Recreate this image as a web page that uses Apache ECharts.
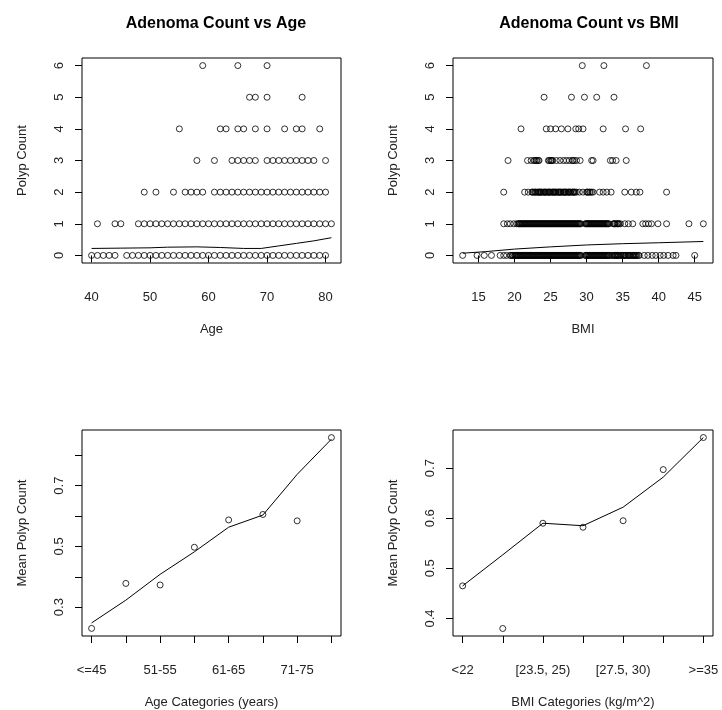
<!DOCTYPE html>
<html>
<head>
<meta charset="utf-8">
<script src="https://cdn.jsdelivr.net/npm/echarts@6/dist/echarts.min.js"></script>
<style>
  html, body { margin: 0; padding: 0; background: #fff; }
  #chart { width: 722px; height: 710px; }
</style>
</head>
<body>
<div id="chart"></div>
<script>
// Adenoma / polyp count panels (2x2, R base-graphics look)

// --- top left: count vs age, one array of ages per count level
const ageRow0 = [40, 41, 42, 43, 44, 46, 47, 48, 49, 50, 51, 52, 53, 54, 55, 56, 57, 58, 59, 60, 61, 62, 63, 64, 65, 66, 67, 68, 69, 70, 71, 72, 73, 74, 75, 76, 77, 78, 79, 80];
const ageRow1 = [41, 44, 45, 48, 49, 50, 51, 52, 53, 54, 55, 56, 57, 58, 59, 60, 61, 62, 63, 64, 65, 66, 67, 68, 69, 70, 71, 72, 73, 74, 75, 76, 77, 78, 79, 80, 81];
const ageRow2 = [49, 51, 54, 56, 57, 58, 59, 61, 62, 63, 64, 65, 66, 67, 68, 69, 70, 71, 72, 73, 74, 75, 76, 77, 78, 79, 80];
const ageRow3 = [58, 61, 64, 65, 66, 67, 68, 70, 71, 72, 73, 74, 75, 76, 77, 78, 80];
const ageRow4 = [55, 62, 63, 65, 66, 68, 70, 73, 75, 76, 79];
const ageRow5 = [67, 68, 70, 76];
const ageRow6 = [59, 65, 70];
const ageSmoothX = [40, 45, 50, 53, 58, 62, 66, 69, 72, 75, 78, 81];
const ageSmoothY = [0.22, 0.23, 0.24, 0.26, 0.27, 0.25, 0.22, 0.22, 0.30, 0.38, 0.46, 0.56];

// --- top right: count vs BMI (the dense bands hold many subjects)
const bmiRow0 = [12.8, 14.8, 15.8, 16.8, 18.0, 18.5, 18.9, 19.4, 19.7, 20.0, 20.3, 20.5, 20.8, 21.0, 21.3, 21.5, 21.8, 22.0, 22.3, 22.5, 22.8, 23.0, 23.3, 23.5, 23.8, 24.0, 24.3, 24.5, 24.8, 25.0, 25.3, 25.5, 25.8, 26.0, 26.3, 26.5, 26.8, 27.0, 27.3, 27.5, 27.8, 28.0, 28.3, 28.5, 28.8, 29.0, 29.2, 29.8, 30.0, 30.3, 30.5, 30.8, 31.0, 31.3, 31.5, 31.8, 32.0, 32.3, 32.5, 32.8, 33.0, 33.5, 33.8, 34.0, 34.3, 34.5, 35.1, 35.4, 35.7, 36.0, 36.3, 36.6, 36.9, 37.3, 38.0, 38.5, 39.1, 39.6, 40.2, 40.7, 41.3, 42.0, 42.4, 45.0,
  19.5, 19.8, 20.1, 20.4, 20.6, 20.9, 21.1, 21.4, 21.6, 21.9, 22.1, 22.4, 22.6, 22.9, 23.1, 23.4, 23.6, 23.9, 24.1, 24.4, 24.6, 24.9, 25.1, 25.4, 25.6, 25.9, 26.1, 26.4, 26.6, 26.9, 27.1, 27.4, 27.6, 27.9, 28.1, 28.4, 28.6, 28.9, 29.1, 29.9, 30.1, 30.4, 30.6, 30.9, 31.1, 31.4, 31.6, 31.9, 32.1, 32.4, 32.6, 32.9, 33.1, 33.6, 33.9, 34.1, 34.4, 34.7, 35.0, 35.2, 35.5, 35.8, 36.1, 36.4, 36.7, 37.0, 37.2,
  20.2, 20.7, 21.2, 21.7, 22.2, 22.7, 23.2, 23.7, 24.2, 24.7, 25.2, 25.7, 26.2, 26.7, 27.2, 27.7, 28.2, 28.7, 30.2, 30.7, 31.2, 31.7, 32.2, 32.7, 33.2, 34.2, 34.8, 35.3, 35.9, 36.5, 36.8];
const bmiRow1 = [18.5, 19.0, 19.4, 19.9, 20.3, 20.5, 20.8, 21.0, 21.3, 21.5, 21.8, 22.0, 22.3, 22.5, 22.8, 23.0, 23.3, 23.5, 23.8, 24.0, 24.3, 24.5, 24.8, 25.0, 25.3, 25.5, 25.8, 26.0, 26.3, 26.5, 26.8, 27.0, 27.3, 27.5, 27.8, 28.0, 28.3, 28.5, 28.8, 29.0, 29.2, 29.8, 30.0, 30.3, 30.5, 30.8, 31.0, 31.3, 31.5, 31.8, 32.0, 32.3, 32.5, 32.8, 33.1, 33.7, 33.9, 34.2, 34.4, 34.7, 35.3, 35.8, 36.4, 37.8, 38.2, 38.6, 39.0, 39.9, 41.1, 44.2, 46.2,
  20.6, 20.9, 21.1, 21.4, 21.6, 21.9, 22.1, 22.4, 22.6, 22.9, 23.1, 23.4, 23.6, 23.9, 24.1, 24.4, 24.6, 24.9, 25.1, 25.4, 25.6, 25.9, 26.1, 26.4, 26.6, 26.9, 27.1, 27.4, 27.6, 27.9, 28.1, 28.4, 28.6, 28.9, 29.1, 29.9, 30.1, 30.4, 30.6, 30.9, 31.1, 31.4, 31.6, 31.9, 32.1, 32.4, 32.6, 32.9, 33.0, 33.8, 34.0, 34.3, 34.5,
  20.7, 21.2, 21.7, 22.2, 22.7, 23.2, 23.7, 24.2, 24.7, 25.2, 25.7, 26.2, 26.7, 27.2, 27.7, 28.2, 28.7, 30.2, 30.7, 31.2, 31.7, 32.2, 32.7];
const bmiRow2 = [18.5, 21.4, 21.9, 22.4, 22.6, 22.9, 23.2, 23.4, 23.7, 24.0, 24.3, 24.6, 24.9, 25.2, 25.4, 25.7, 26.0, 26.3, 26.5, 26.8, 27.1, 27.4, 27.7, 28.0, 28.3, 28.6, 29.0, 29.5, 30.0, 30.2, 30.5, 30.9, 31.8, 32.3, 32.8, 33.4, 35.3, 36.2, 36.9, 37.4, 41.1,
  22.5, 22.8, 23.0, 23.3, 23.5, 23.8, 24.1, 24.4, 24.7, 25.0, 25.3, 25.5, 25.8, 26.1, 26.4, 26.7, 26.9, 27.2, 27.5, 27.8, 28.1, 28.4, 30.1, 30.4, 30.7,
  23.6, 24.2, 24.8, 25.6, 26.2, 27.0, 27.6, 28.2];
const bmiRow3 = [19.1, 21.8, 22.3, 22.7, 23.0, 23.3, 24.7, 25.0, 25.3, 25.8, 26.3, 26.8, 27.2, 27.6, 28.1, 28.6, 29.1, 30.7, 30.9, 33.3, 33.6, 34.1, 35.5,
  22.8, 23.1, 23.4, 24.8, 25.1, 25.2, 28.0, 28.3];
const bmiRow4 = [20.9, 24.4, 25.0, 25.7, 26.5, 27.4, 28.5, 28.9, 29.5, 32.3, 35.4, 37.5];
const bmiRow5 = [24.1, 27.9, 29.7, 31.4, 33.8];
const bmiRow6 = [29.4, 32.4, 38.3];
const bmiSmoothX = [12.8, 16, 20, 25, 30, 35, 40, 46.2];
const bmiSmoothY = [0.07, 0.12, 0.20, 0.27, 0.33, 0.37, 0.40, 0.44];

// --- bottom left: mean count by age category
const ageCats = ['<=45', '46-50', '51-55', '56-60', '61-65', '66-70', '71-75', '>75'];
const ageCatMean = [0.230, 0.378, 0.373, 0.497, 0.587, 0.605, 0.584, 0.858];
const ageCatSmooth = [0.248, 0.323, 0.408, 0.482, 0.563, 0.603, 0.737, 0.853];

// --- bottom right: mean count by BMI category
const bmiCats = ['<22', '[22, 23.5)', '[23.5, 25)', '[25, 27.5)', '[27.5, 30)', '[30, 35)', '>=35'];
const bmiCatMean = [0.465, 0.380, 0.590, 0.582, 0.595, 0.697, 0.761];
const bmiCatSmooth = [0.465, 0.527, 0.590, 0.585, 0.622, 0.682, 0.761];

const FONT = '"Liberation Sans", Arial, sans-serif';
const INK = '#000';
const LABEL = '#222';

function rows(list) {
  const out = [];
  list.forEach((xs, level) => xs.forEach(x => out.push([x, level])));
  return out;
}
function zip(xs, ys) { return xs.map((x, i) => [x, ys[i]]); }
function idx(ys) { return ys.map((y, i) => [i + 1, y]); }

function xAxis(gridIndex, min, max, ticks, labels, name, fmt) {
  return {
    type: 'value', gridIndex, min, max,
    name, nameLocation: 'middle', nameGap: 60,
    nameTextStyle: { fontFamily: FONT, fontSize: 13, color: LABEL },
    axisLine: { show: false },
    splitLine: { show: false },
    axisTick: { show: true, inside: false, length: 7, customValues: ticks, lineStyle: { color: INK } },
    axisLabel: { customValues: labels, margin: 28, fontFamily: FONT, fontSize: 13, color: LABEL,
      formatter: fmt || (v => String(v)) }
  };
}
function yAxis(gridIndex, min, max, ticks, labels, name) {
  return {
    type: 'value', gridIndex, min, max,
    name, nameLocation: 'middle', nameGap: 53,
    nameTextStyle: { fontFamily: FONT, fontSize: 13, color: LABEL },
    axisLine: { show: false },
    splitLine: { show: false },
    axisTick: { show: true, inside: false, length: 7, customValues: ticks, lineStyle: { color: INK } },
    axisLabel: { customValues: labels, rotate: 90, margin: 16, fontFamily: FONT, fontSize: 13, color: LABEL,
      formatter: v => String(Math.round(v * 10) / 10) }
  };
}

const dot = { color: 'rgba(0,0,0,0)', borderColor: INK, borderWidth: 1 };
function scatter(i, data) {
  return { type: 'scatter', xAxisIndex: i, yAxisIndex: i, data, symbol: 'circle', symbolSize: 6,
    itemStyle: dot, silent: true, large: false };
}
function line(i, data) {
  return { type: 'line', xAxisIndex: i, yAxisIndex: i, data, showSymbol: false, smooth: false,
    lineStyle: { color: INK, width: 1 }, silent: true };
}

const gridBox = { show: true, borderColor: INK, borderWidth: 1, backgroundColor: 'transparent' };
const titleStyle = { fontFamily: FONT, fontSize: 16, fontWeight: 'bold', color: INK };

const option = {
  backgroundColor: '#fff',
  animation: false,
  title: [
    { text: 'Adenoma Count vs Age', left: 211, top: 11, textAlign: 'center', textStyle: titleStyle },
    { text: 'Adenoma Count vs BMI', left: 584, top: 11, textAlign: 'center', textStyle: titleStyle }
  ],
  grid: [
    Object.assign({ left: 82, top: 58, width: 259, height: 205 }, gridBox),
    Object.assign({ left: 453, top: 58, width: 260, height: 205 }, gridBox),
    Object.assign({ left: 82, top: 430, width: 259, height: 206 }, gridBox),
    Object.assign({ left: 453, top: 430, width: 260, height: 206 }, gridBox)
  ],
  xAxis: [
    xAxis(0, 38.36, 82.64, [40, 50, 60, 70, 80], [40, 50, 60, 70, 80], 'Age'),
    xAxis(1, 11.46, 47.54, [15, 20, 25, 30, 35, 40, 45], [15, 20, 25, 30, 35, 40, 45], 'BMI'),
    xAxis(2, 0.72, 8.28, [1, 2, 3, 4, 5, 6, 7, 8], [1, 3, 5, 7], 'Age Categories (years)',
      v => ageCats[Math.round(v) - 1]),
    xAxis(3, 0.76, 7.24, [1, 2, 3, 4, 5, 6, 7], [1, 3, 5, 7], 'BMI Categories (kg/m^2)',
      v => bmiCats[Math.round(v) - 1])
  ],
  yAxis: [
    yAxis(0, -0.24, 6.24, [0, 1, 2, 3, 4, 5, 6], [0, 1, 2, 3, 4, 5, 6], 'Polyp Count'),
    yAxis(1, -0.24, 6.24, [0, 1, 2, 3, 4, 5, 6], [0, 1, 2, 3, 4, 5, 6], 'Polyp Count'),
    yAxis(2, 0.205, 0.883, [0.3, 0.4, 0.5, 0.6, 0.7, 0.8], [0.3, 0.5, 0.7], 'Mean Polyp Count'),
    yAxis(3, 0.365, 0.776, [0.4, 0.5, 0.6, 0.7], [0.4, 0.5, 0.6, 0.7], 'Mean Polyp Count')
  ],
  series: [
    scatter(0, rows([ageRow0, ageRow1, ageRow2, ageRow3, ageRow4, ageRow5, ageRow6])),
    line(0, zip(ageSmoothX, ageSmoothY)),
    scatter(1, rows([bmiRow0, bmiRow1, bmiRow2, bmiRow3, bmiRow4, bmiRow5, bmiRow6])),
    line(1, zip(bmiSmoothX, bmiSmoothY)),
    scatter(2, idx(ageCatMean)),
    line(2, idx(ageCatSmooth)),
    scatter(3, idx(bmiCatMean)),
    line(3, idx(bmiCatSmooth))
  ]
};

const chart = echarts.init(document.getElementById('chart'), null, { renderer: 'canvas' });
chart.setOption(option);
</script>
</body>
</html>
